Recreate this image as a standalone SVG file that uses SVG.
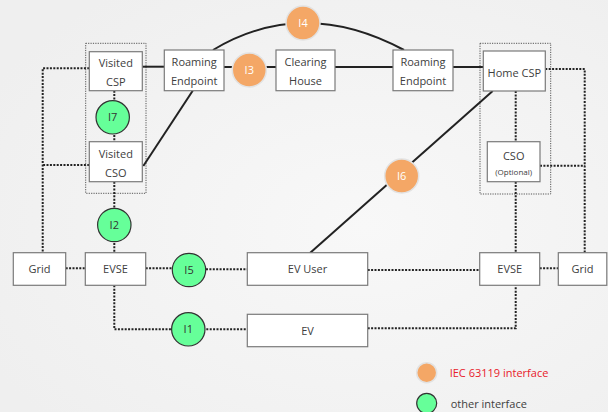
<svg xmlns="http://www.w3.org/2000/svg" width="608" height="412" viewBox="0 0 608 412">
<defs>
<radialGradient id="bg" cx="0.6" cy="0.55" r="0.7">
<stop offset="0" stop-color="#f8f8f8"/>
<stop offset="1" stop-color="#efefef"/>
</radialGradient>
<style>
.box{fill:#fff;stroke:#7a7a7a;stroke-width:1.2}
.grp{fill:none;stroke:#555;stroke-width:1;stroke-dasharray:1.2 1.2}
.t{font-family:"Open Sans","DejaVu Sans",sans-serif;font-size:11px;fill:#404040;text-anchor:middle}
.s{font-family:"Open Sans","DejaVu Sans",sans-serif;font-size:8px;fill:#404040;text-anchor:middle}
.sol{fill:none;stroke:#222;stroke-width:2}
.dot{fill:none;stroke:#222;stroke-width:2;stroke-dasharray:2 1.4}
.or{fill:#f4a766;stroke:#e2e2e2;stroke-width:1.5}
.gr{fill:#66ff99;stroke:#333;stroke-width:1.2}
.ot{font-family:"Open Sans","DejaVu Sans",sans-serif;font-size:11px;fill:#fff;text-anchor:middle}
.gt{font-family:"Open Sans","DejaVu Sans",sans-serif;font-size:11px;fill:#333;text-anchor:middle}
.lg{font-family:"Open Sans","DejaVu Sans",sans-serif;font-size:11px}
</style>
</defs>
<rect width="608" height="412" fill="url(#bg)"/>
<rect class="grp" x="85.7" y="43.3" width="60.3" height="150"/>
<rect class="grp" x="480" y="43.3" width="70.7" height="150.7"/>
<g id="connectors">
<path class="sol" d="M213,50 Q303,-4 404,50"/>
<path class="sol" d="M142,66.7 H164.3"/>
<path class="sol" d="M224,67 H276"/>
<path class="sol" d="M335,67 H393"/>
<path class="sol" d="M453,67 H483.3"/>
<path class="sol" d="M192.7,90.7 L143.3,166"/>
<path class="sol" d="M492.7,91 L310,253"/>
<path class="dot" d="M89.3,68.3 H42.7 V252.7"/>
<path class="dot" d="M89.3,165 H42.7"/>
<path class="dot" d="M114.3,90.7 V141.7"/>
<path class="dot" d="M114.3,181.7 V252.7"/>
<path class="dot" d="M65.7,268.3 H85.3"/>
<path class="dot" d="M145.7,268.3 H172"/>
<path class="dot" d="M206,269.3 H247.3"/>
<path class="dot" d="M114.3,285.3 V329.3 H247.3"/>
<path class="dot" d="M367.7,270 H479.7"/>
<path class="dot" d="M367.7,328.3 H515.7 V285.3"/>
<path class="dot" d="M515.7,91 V141.7"/>
<path class="dot" d="M515.7,181.7 V252.7"/>
<path class="dot" d="M545.3,69 H584.7 V252.7"/>
<path class="dot" d="M540,165.7 H584.7"/>
<path class="dot" d="M539.7,268.3 H558.3"/>
</g>
<g id="visited-csp"><rect class="box" x="89.3" y="51.7" width="53" height="39"/><text class="t" x="115.8" y="67">Visited</text><text class="t" x="115.8" y="86">CSP</text></g>
<g id="visited-cso"><rect class="box" x="89.3" y="141.7" width="53" height="40"/><text class="t" x="115.8" y="157.5">Visited</text><text class="t" x="115.8" y="176.5">CSO</text></g>
<g id="roaming-endpoint-1"><rect class="box" x="164.3" y="50" width="59.7" height="40.7"/><text class="t" x="194.2" y="66">Roaming</text><text class="t" x="194.2" y="85">Endpoint</text></g>
<g id="clearing-house"><rect class="box" x="276" y="50" width="59" height="40.7"/><text class="t" x="305.5" y="66">Clearing</text><text class="t" x="305.5" y="85">House</text></g>
<g id="roaming-endpoint-2"><rect class="box" x="393" y="50" width="60" height="40.7"/><text class="t" x="423" y="66">Roaming</text><text class="t" x="423" y="85">Endpoint</text></g>
<g id="home-csp"><rect class="box" x="483.3" y="51" width="62" height="40"/><text class="t" x="514.3" y="76.5">Home CSP</text></g>
<g id="cso"><rect class="box" x="487.3" y="141.7" width="52.7" height="40"/><text class="t" x="513.7" y="160">CSO</text><text class="s" x="513.7" y="175">(Optional)</text></g>
<g id="grid-left"><rect class="box" x="13.3" y="252.7" width="52.4" height="32.6"/><text class="t" x="39.5" y="273">Grid</text></g>
<g id="evse-left"><rect class="box" x="85.3" y="252.7" width="60.4" height="32.6"/><text class="t" x="115.5" y="273">EVSE</text></g>
<g id="ev-user"><rect class="box" x="247.3" y="252.7" width="120.4" height="32.6"/><text class="t" x="307.5" y="273">EV User</text></g>
<g id="ev"><rect class="box" x="247.3" y="314.3" width="120.4" height="32.4"/><text class="t" x="307.5" y="334.5">EV</text></g>
<g id="evse-right"><rect class="box" x="479.7" y="252.7" width="60" height="32.6"/><text class="t" x="509.7" y="273">EVSE</text></g>
<g id="grid-right"><rect class="box" x="558.3" y="252.7" width="48.5" height="32.6"/><text class="t" x="582.5" y="273">Grid</text></g>
<g id="i4"><circle class="or" cx="303" cy="23" r="17"/><text class="ot" x="303" y="27">I4</text></g>
<g id="i3"><circle class="or" cx="249.3" cy="70" r="17"/><text class="ot" x="249.3" y="74">I3</text></g>
<g id="i6"><circle class="or" cx="401.7" cy="176" r="17"/><text class="ot" x="401.7" y="180">I6</text></g>
<g id="i7"><circle class="gr" cx="112.7" cy="117.3" r="16.7"/><text class="gt" x="112.7" y="121.3">I7</text></g>
<g id="i2"><circle class="gr" cx="114.3" cy="225" r="16.7"/><text class="gt" x="114.3" y="229">I2</text></g>
<g id="i5"><circle class="gr" cx="189" cy="270" r="16.7"/><text class="gt" x="189" y="274">I5</text></g>
<g id="i1"><circle class="gr" cx="188.3" cy="329.3" r="16.7"/><text class="gt" x="188.3" y="333.3">I1</text></g>
<g id="legend">
<circle class="or" cx="426.7" cy="372.7" r="10"/>
<text class="lg" x="449.7" y="377" fill="#e8202a">IEC 63119 interface</text>
<circle class="gr" cx="426.7" cy="403.3" r="10"/>
<text class="lg" x="450.7" y="407.5" fill="#404040">other interface</text>
</g>
</svg>
